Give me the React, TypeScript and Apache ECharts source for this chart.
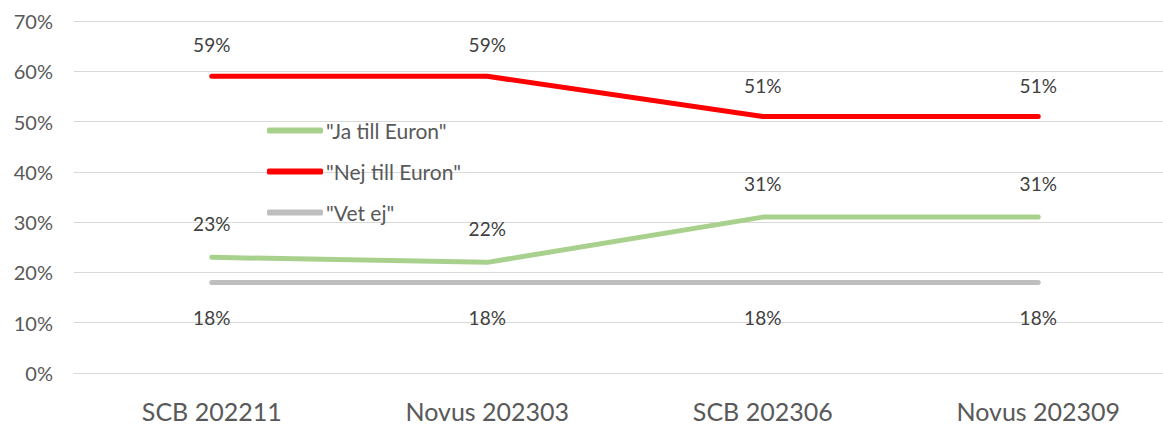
import React, { useEffect, useRef } from "react";
import * as echarts from "echarts";

const categories = ["SCB 202211", "Novus 202303", "SCB 202306", "Novus 202309"];
const jaValues = [23, 22, 31, 31];
const nejValues = [59, 59, 51, 51];
const vetValues = [18, 18, 18, 18];
const seriesNames = ['"Ja till Euron"', '"Nej till Euron"', '"Vet ej"'];

const FONT = "Lato";

export default function App() {
  const ref = useRef<HTMLDivElement>(null);
  useEffect(() => {
    if (!ref.current) return;
    const chart = echarts.init(ref.current, undefined, { renderer: "svg" });
    const mk = (name: string, data: number[], color: string, pos: string, dist: number) => ({
      name,
      type: "line",
      data,
      symbol: "circle",
      symbolSize: 0,
      showSymbol: true,
      lineStyle: { color, width: 5, cap: "round" },
      itemStyle: { color },
      label: {
        show: true,
        position: pos,
        distance: dist,
        formatter: (p: any) => p.value + "%",
        fontFamily: FONT,
        fontSize: 19,
        color: "#404040",
      },
    });
    chart.setOption({
      animation: false,
      legend: {
        orient: "vertical",
        left: 267,
        top: 120,
        padding: 0,
        itemWidth: 56,
        itemHeight: 6,
        itemGap: 20,
        icon: "roundRect",
        textStyle: { fontFamily: FONT, fontSize: 21, lineHeight: 20, color: "#595959", padding: [0, 0, 0, -2] },
        data: seriesNames,
      },
      grid: { left: 74, right: 0, top: 21, bottom: 52, containLabel: false },
      xAxis: {
        type: "category",
        data: categories,
        boundaryGap: true,
        axisLine: { show: true, lineStyle: { color: "#D9D9D9", width: 1 } },
        axisTick: { show: false },
        axisLabel: { fontFamily: FONT, fontSize: 25, color: "#595959", margin: 25 },
      },
      yAxis: {
        type: "value",
        min: 0,
        max: 70,
        interval: 10,
        axisLine: { show: false },
        axisTick: { show: false },
        axisLabel: { formatter: "{value}%", fontFamily: FONT, fontSize: 20, color: "#595959", margin: 21 },
        splitLine: { lineStyle: { color: "#D9D9D9", width: 1 } },
      },
      series: [
        mk(seriesNames[0], jaValues, "#A9D18E", "top", 24),
        mk(seriesNames[1], nejValues, "#FF0000", "top", 22),
        mk(seriesNames[2], vetValues, "#BFBFBF", "bottom", 26),
      ],
    });
    return () => chart.dispose();
  }, []);
  return (
    <div style={{ position: "absolute", left: 0, top: 0, width: 1163, height: 425, overflow: "hidden", background: "#fff" }}>
      <div ref={ref} style={{ width: 1176, height: 425 }} />
    </div>
  );
}
